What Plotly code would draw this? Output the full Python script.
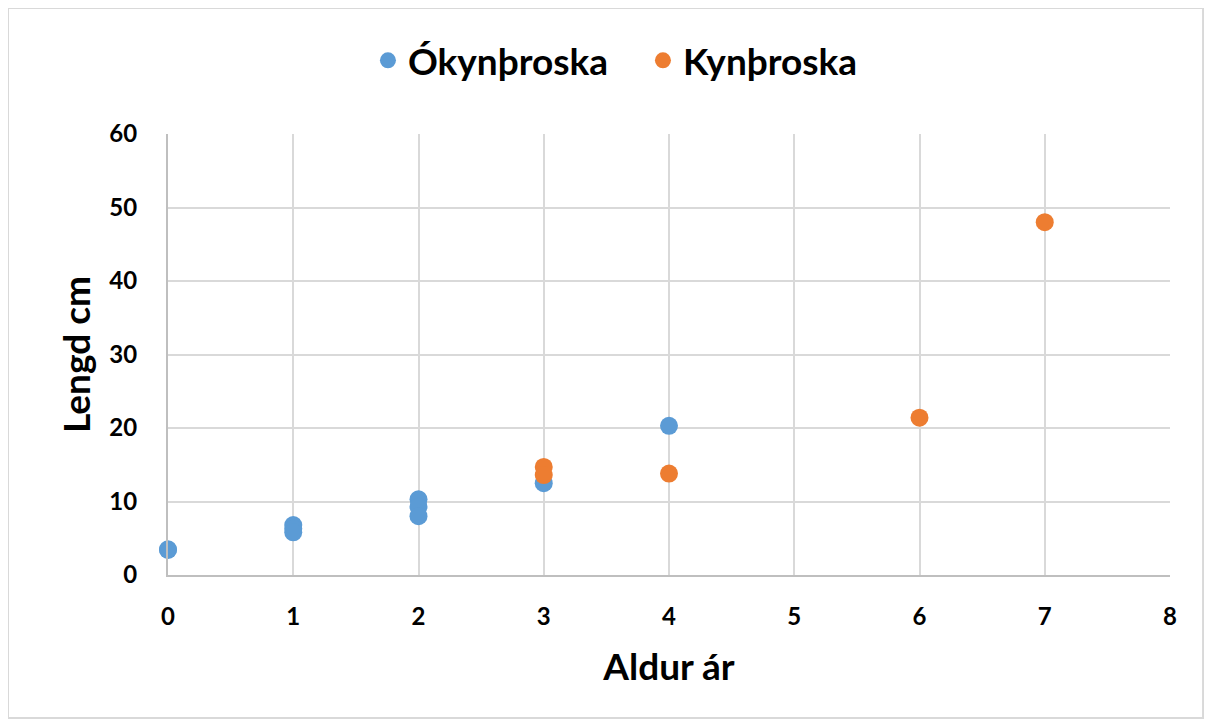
import plotly.graph_objects as go

# Data
okyn_x = [0, 0, 1, 1, 1, 2, 2, 2, 3, 4]
okyn_y = [3.4, 3.5, 6.8, 6.3, 5.8, 10.3, 9.3, 8.0, 12.5, 20.3]
kyn_x = [3, 3, 4, 6, 7]
kyn_y = [14.7, 13.6, 13.8, 21.4, 48.0]

x_ticks = [0, 1, 2, 3, 4, 5, 6, 7, 8]
y_ticks = [0, 10, 20, 30, 40, 50, 60]

FONT = "Lato, 'Open Sans', sans-serif"

fig = go.Figure()
fig.add_trace(go.Scatter(x=okyn_x, y=okyn_y, mode="markers", name="Ókynþroska",
                         marker=dict(color="#5b9bd5", size=18), cliponaxis=False))
fig.add_trace(go.Scatter(x=kyn_x, y=kyn_y, mode="markers", name="Kynþroska",
                         marker=dict(color="#ed7d31", size=18), cliponaxis=False))

fig.update_layout(
    width=1212, height=726,
    margin=dict(l=160, r=50, t=126, b=159),
    plot_bgcolor="white", paper_bgcolor="white",
    font=dict(family=FONT, color="black"),
    legend=dict(orientation="h", x=0.474, xanchor="center", y=1.166, yanchor="middle",
                font=dict(size=37, family=FONT, weight="bold"), itemsizing="trace",
                itemwidth=30, entrywidth=230, tracegroupgap=0),
    xaxis=dict(range=[0, 8], tickvals=x_ticks, showgrid=True, gridcolor="#d9d9d9", gridwidth=2,
               showline=True, linecolor="#bfbfbf", linewidth=2, zeroline=False,
               ticks="outside", ticklen=19, tickcolor="rgba(0,0,0,0)",
               tickfont=dict(size=24, family=FONT, weight="bold"),
               title=dict(text="Aldur ár", font=dict(size=37, family=FONT, weight="bold"), standoff=25)),
    yaxis=dict(range=[0, 60], tickvals=y_ticks, showgrid=True, gridcolor="#d9d9d9", gridwidth=2,
               showline=True, linecolor="#bfbfbf", linewidth=2, zeroline=False,
               ticks="outside", ticklen=24, tickcolor="rgba(0,0,0,0)",
               tickfont=dict(size=24, family=FONT, weight="bold"),
               title=dict(text="Lengd cm", font=dict(size=37, family=FONT, weight="bold"), standoff=7)),
)

fig.add_shape(type="rect", xref="paper", yref="paper",
              x0=-0.1597, x1=1.033, y0=-0.324, y1=1.2857,
              line=dict(color="#d9d9d9", width=2), fillcolor="rgba(0,0,0,0)", layer="below")

fig.write_html("out.html")
